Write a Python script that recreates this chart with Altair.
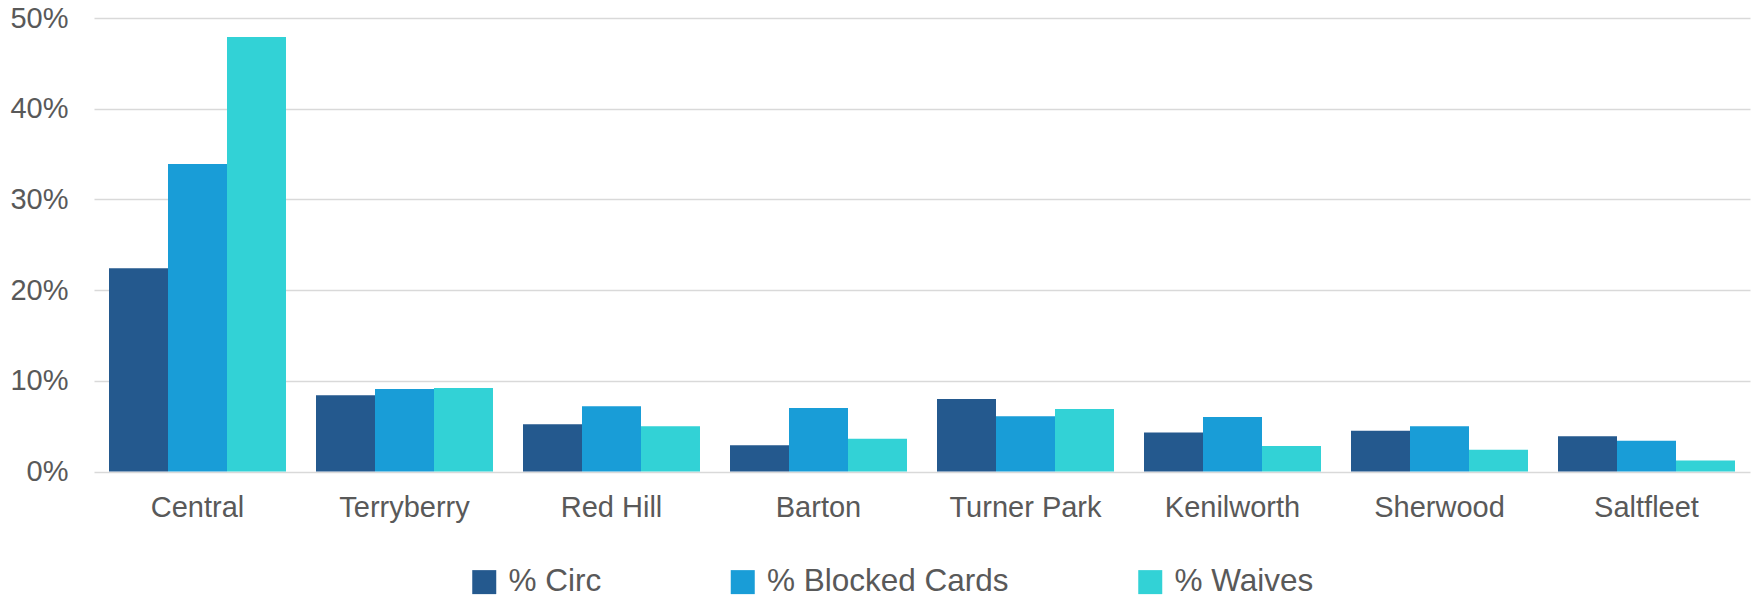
import altair as alt
import pandas as pd

# Branch shares by metric
branches = ["Central", "Terryberry", "Red Hill", "Barton", "Turner Park",
            "Kenilworth", "Sherwood", "Saltfleet"]
series = ["% Circ", "% Blocked Cards", "% Waives"]
pct_circ = [0.224, 0.084, 0.052, 0.029, 0.080, 0.043, 0.045, 0.039]
pct_blocked = [0.339, 0.091, 0.072, 0.070, 0.061, 0.060, 0.050, 0.034]
pct_waives = [0.479, 0.092, 0.050, 0.036, 0.069, 0.028, 0.024, 0.012]
colors = ["#24598E", "#199DD7", "#32D2D6"]
y_ticks = [0, 0.1, 0.2, 0.3, 0.4, 0.5]

rows = []
for name, values in zip(series, [pct_circ, pct_blocked, pct_waives]):
    for branch, v in zip(branches, values):
        rows.append({"Branch": branch, "Series": name, "Share": v})
df = pd.DataFrame(rows)

FONT = "Liberation Sans"
GREY = "#595959"

chart = alt.Chart(df).mark_bar().encode(
    x=alt.X(
        "Branch:N", sort=branches,
        scale=alt.Scale(paddingInner=0.145, paddingOuter=0.0725),
        axis=alt.Axis(title=None, labelAngle=0, ticks=False, domain=False,
                      labelPadding=22, labelFontSize=29, labelColor=GREY,
                      labelFont=FONT, grid=False),
    ),
    xOffset=alt.XOffset("Series:N", sort=series),
    y=alt.Y(
        "Share:Q",
        scale=alt.Scale(domain=[0, 0.5]),
        axis=alt.Axis(title=None, format=".0%", values=y_ticks, ticks=False,
                      domain=False, labelPadding=26, labelFontSize=29,
                      labelColor=GREY, labelFont=FONT, gridColor="#D9D9D9",
                      gridWidth=1.5),
    ),
    color=alt.Color(
        "Series:N", sort=series,
        scale=alt.Scale(domain=series, range=colors),
        legend=alt.Legend(title=None, orient="none", legendX=374.5, legendY=548,
                          direction="horizontal", symbolType="square",
                          symbolSize=576, symbolStrokeWidth=0,
                          labelFontSize=31.5, labelColor=GREY, labelFont=FONT,
                          labelOffset=8.5, labelLimit=500, columnPadding=125.5),
    ),
).properties(
    width=1656,
    height=453.5,
    padding={"left": 94, "top": 18, "right": 2, "bottom": 126},
    autosize=alt.AutoSizeParams(type="none"),
).configure_view(stroke=None)

chart.save("out.html", embed_options={"renderer": "svg", "actions": False})
